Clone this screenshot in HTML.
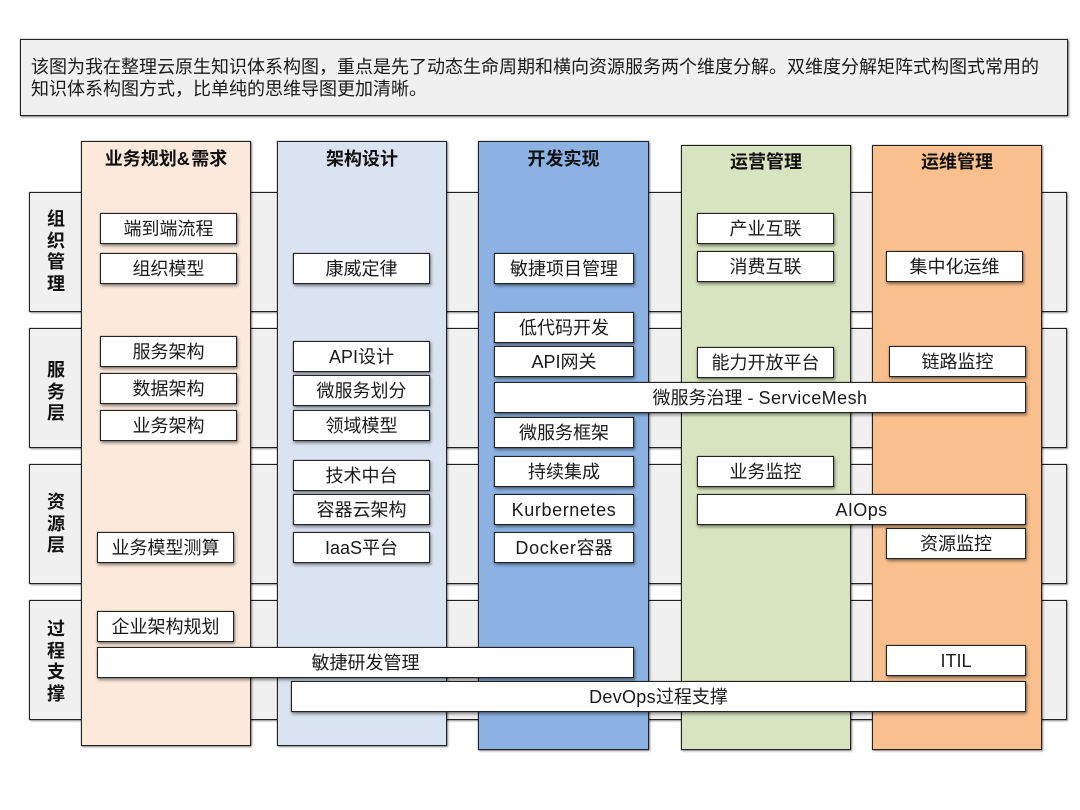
<!DOCTYPE html>
<html lang="zh">
<head>
<meta charset="utf-8">
<style>
html,body{margin:0;padding:0;background:#fff}
#p{position:relative;width:1080px;height:810px;overflow:hidden;background:#fff;font-family:"Liberation Sans","Noto Sans CJK SC",sans-serif;color:#1a1a1a}
#p div{position:absolute;box-sizing:border-box}
.row{left:29px;width:1038px;height:120px;background:#f0f0f0;border:1px solid #222;box-shadow:0 0 .6px #222,1px 1px 2px rgba(0,0,0,.4)}
.rl{left:30px;width:52px;text-align:center;font-weight:bold;font-size:18px;line-height:21.7px;color:#111}
.col{border:1px solid #222;box-shadow:0 0 .6px #222,1px 1px 2px rgba(0,0,0,.45)}
.h{text-align:center;font-weight:bold;font-size:18px;line-height:28px;color:#111;height:28px;white-space:nowrap}
.b{height:31px;background:#fff;border:1px solid #222;box-shadow:0 0 .6px #222,1px 2px 3px rgba(0,0,0,.45);text-align:center;font-size:18px;line-height:30px;white-space:nowrap}
</style>
</head>
<body>
<div id="p">
<div style="left:20px;top:39px;width:1048px;height:77px;background:#f0f0f0;border:1px solid #222;box-shadow:0 0 .6px #222,1px 1px 2px rgba(0,0,0,.5);padding:16px 10px;font-size:18px;line-height:22px;white-space:nowrap">该图为我在整理云原生知识体系构图，重点是先了动态生命周期和横向资源服务两个维度分解。双维度分解矩阵式构图式常用的<br>知识体系构图方式，比单纯的思维导图更加清晰。</div>

<div class="row" style="top:192px"></div>
<div class="row" style="top:328px"></div>
<div class="row" style="top:464px"></div>
<div class="row" style="top:600px"></div>
<div class="rl" style="top:209px">组<br>织<br>管<br>理</div>
<div class="rl" style="top:360px">服<br>务<br>层</div>
<div class="rl" style="top:492px">资<br>源<br>层</div>
<div class="rl" style="top:619px">过<br>程<br>支<br>撑</div>

<div class="col" style="left:81px;top:141px;width:170px;height:605px;background:#fbe9db"></div>
<div class="col" style="left:277px;top:141px;width:170px;height:605px;background:#dae3f1"></div>
<div class="col" style="left:478px;top:141px;width:171px;height:609px;background:#8cb2e3"></div>
<div class="col" style="left:681px;top:145px;width:170px;height:605px;background:#d8e3bf"></div>
<div class="col" style="left:872px;top:145px;width:170px;height:605px;background:#f9c08e"></div>

<div class="h" style="left:81px;top:145px;width:170px">业务规划<span style="letter-spacing:1.5px">&amp;</span>需求</div>
<div class="h" style="left:277px;top:145px;width:170px">架构设计</div>
<div class="h" style="left:478px;top:145px;width:171px">开发实现</div>
<div class="h" style="left:681px;top:148px;width:170px">运营管理</div>
<div class="h" style="left:872px;top:148px;width:170px">运维管理</div>

<div class="b" style="left:100px;top:213px;width:137px">端到端流程</div>
<div class="b" style="left:100px;top:253px;width:137px">组织模型</div>
<div class="b" style="left:100px;top:336px;width:137px">服务架构</div>
<div class="b" style="left:100px;top:373px;width:137px">数据架构</div>
<div class="b" style="left:100px;top:410px;width:137px">业务架构</div>
<div class="b" style="left:97px;top:532px;width:137px">业务模型测算</div>
<div class="b" style="left:97px;top:611px;width:137px">企业架构规划</div>

<div class="b" style="left:293px;top:253px;width:137px">康威定律</div>
<div class="b" style="left:293px;top:341px;width:137px">API设计</div>
<div class="b" style="left:293px;top:375px;width:137px">微服务划分</div>
<div class="b" style="left:293px;top:410px;width:137px">领域模型</div>
<div class="b" style="left:293px;top:460px;width:137px">技术中台</div>
<div class="b" style="left:293px;top:494px;width:137px">容器云架构</div>
<div class="b" style="left:293px;top:532px;width:137px">IaaS平台</div>

<div class="b" style="left:494px;top:253px;width:140px">敏捷项目管理</div>
<div class="b" style="left:494px;top:312px;width:140px">低代码开发</div>
<div class="b" style="left:494px;top:346px;width:140px">API网关</div>
<div class="b" style="left:494px;top:417px;width:140px">微服务框架</div>
<div class="b" style="left:494px;top:456px;width:140px">持续集成</div>
<div class="b" style="left:494px;top:494px;width:140px"><span style="letter-spacing:.6px">Kurbernetes</span></div>
<div class="b" style="left:494px;top:532px;width:140px"><span style="letter-spacing:.7px">Docker</span>容器</div>

<div class="b" style="left:697px;top:213px;width:137px">产业互联</div>
<div class="b" style="left:697px;top:251px;width:137px">消费互联</div>
<div class="b" style="left:697px;top:347px;width:137px">能力开放平台</div>
<div class="b" style="left:697px;top:456px;width:137px">业务监控</div>

<div class="b" style="left:886px;top:251px;width:137px">集中化运维</div>
<div class="b" style="left:889px;top:346px;width:137px">链路监控</div>
<div class="b" style="left:886px;top:528px;width:140px">资源监控</div>
<div class="b" style="left:886px;top:645px;width:140px">ITIL</div>

<div class="b" style="left:494px;top:382px;width:532px">微服务治理 - <span style="letter-spacing:.45px">ServiceMesh</span></div>
<div class="b" style="left:697px;top:494px;width:329px"><span style="letter-spacing:.4px">AIOps</span></div>
<div class="b" style="left:97px;top:647px;width:537px">敏捷研发管理</div>
<div class="b" style="left:291px;top:681px;width:735px"><span style="letter-spacing:.3px">DevOps</span>过程支撑</div>
</div>
</body>
</html>
